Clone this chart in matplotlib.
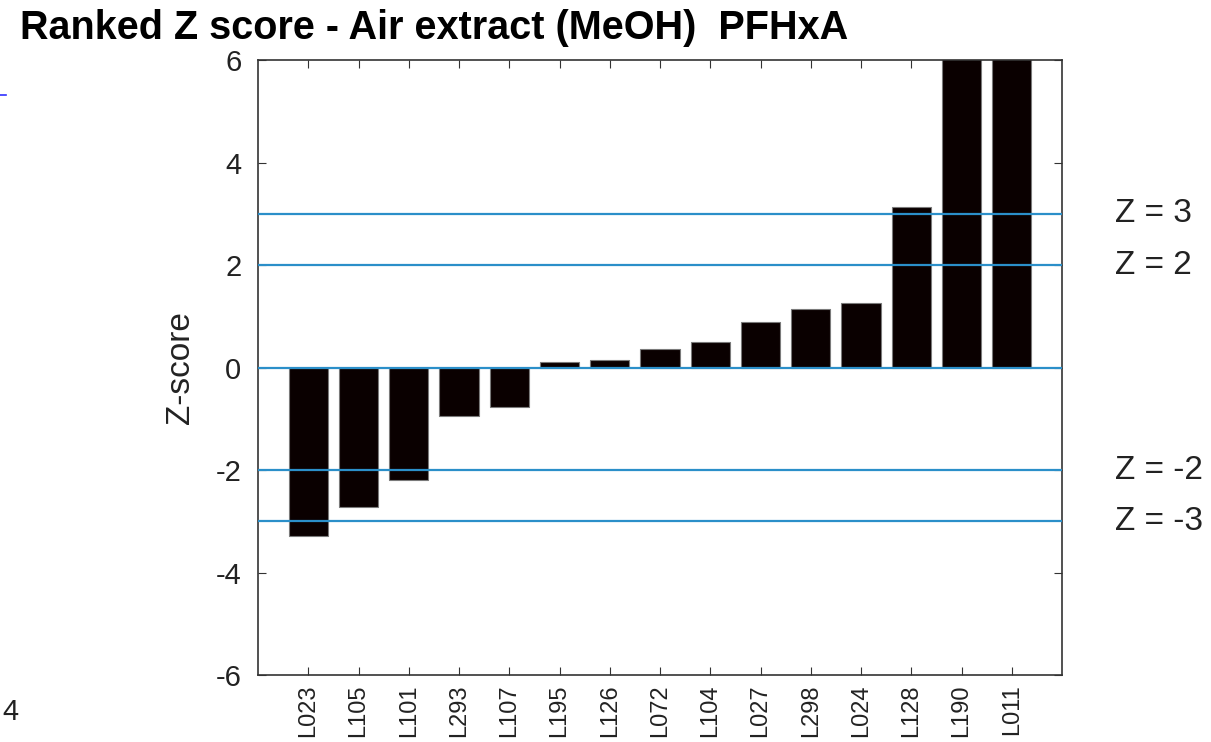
#!/usr/bin/env python3

# Ranked Z score bar chart, PFHxA in air extract (MeOH).

import matplotlib
matplotlib.use('Agg')
import matplotlib.pyplot

FONT_FAMILY = ['Liberation Sans', 'DejaVu Sans']

LABS = ['L023', 'L105', 'L101', 'L293', 'L107', 'L195', 'L126', 'L072',
        'L104', 'L027', 'L298', 'L024', 'L128', 'L190', 'L011']
Z_SCORES = [-3.28, -2.73, -2.19, -0.94, -0.78, 0.10, 0.15, 0.37,
            0.49, 0.88, 1.15, 1.25, 3.14, 7.5, 9.0]

LIMIT_LEVELS = [3, 2, 0, -2, -3]
LIMIT_LABELS = {3: 'Z = 3', 2: 'Z = 2', -2: 'Z = -2', -3: 'Z = -3'}

LINE_COLOR = '#2b8fc9'
AXIS_COLOR = '#333333'
TEXT_COLOR = '#222222'

matplotlib.pyplot.rcParams['font.family'] = FONT_FAMILY
matplotlib.pyplot.rcParams['axes.unicode_minus'] = False

figure = matplotlib.pyplot.figure(figsize = (12.11, 7.42), dpi = 100)
axis = figure.add_axes([258 / 1211, 1 - 675 / 742, (1062 - 258) / 1211, (675 - 60) / 742])

positions = list(range(1, len(LABS) + 1))
axis.bar(positions, Z_SCORES, width = 0.78, color = '#0a0000',
    edgecolor = '#7a7a7a', linewidth = 0.8, zorder = 2)

for level in LIMIT_LEVELS:
    axis.axhline(level, color = LINE_COLOR, linewidth = 1.6, zorder = 3)

axis.set_xlim(0, 16)
axis.set_ylim(-6, 6)

axis.set_yticks([-6, -4, -2, 0, 2, 4, 6])
axis.set_xticks(positions, LABS, rotation = 90, fontsize = 17)
axis.tick_params(axis = 'y', labelsize = 21, pad = 12)
axis.tick_params(axis = 'x', pad = 7)
axis.tick_params(direction = 'in', top = True, right = True, length = 6,
    color = AXIS_COLOR, labelcolor = TEXT_COLOR)

for spine in axis.spines.values():
    spine.set_color(AXIS_COLOR)
    spine.set_linewidth(1.2)

axis.set_ylabel('Z-score', fontsize = 24, color = TEXT_COLOR)
axis.yaxis.set_label_coords(-0.077, 0.5)

for level, text in LIMIT_LABELS.items():
    axis.text(17.05, level, text, fontsize = 24, color = TEXT_COLOR,
        va = 'center', ha = 'left', clip_on = False)

figure.text(20 / 1211, 1 - 28 / 742, 'Ranked Z score - Air extract (MeOH)  PFHxA',
    fontsize = 28.5, fontweight = 'bold', va = 'center', ha = 'left')

# Fragments of the neighbouring panel at the left edge.
figure.text(2 / 1211, 1 - 712 / 742, '4', fontsize = 21, color = TEXT_COLOR, va = 'center')
figure.add_artist(matplotlib.lines.Line2D([0, 6 / 1211], [1 - 95 / 742, 1 - 95 / 742],
    color = '#3030ff', linewidth = 1.2))

figure.savefig('out.png', dpi = 100)
